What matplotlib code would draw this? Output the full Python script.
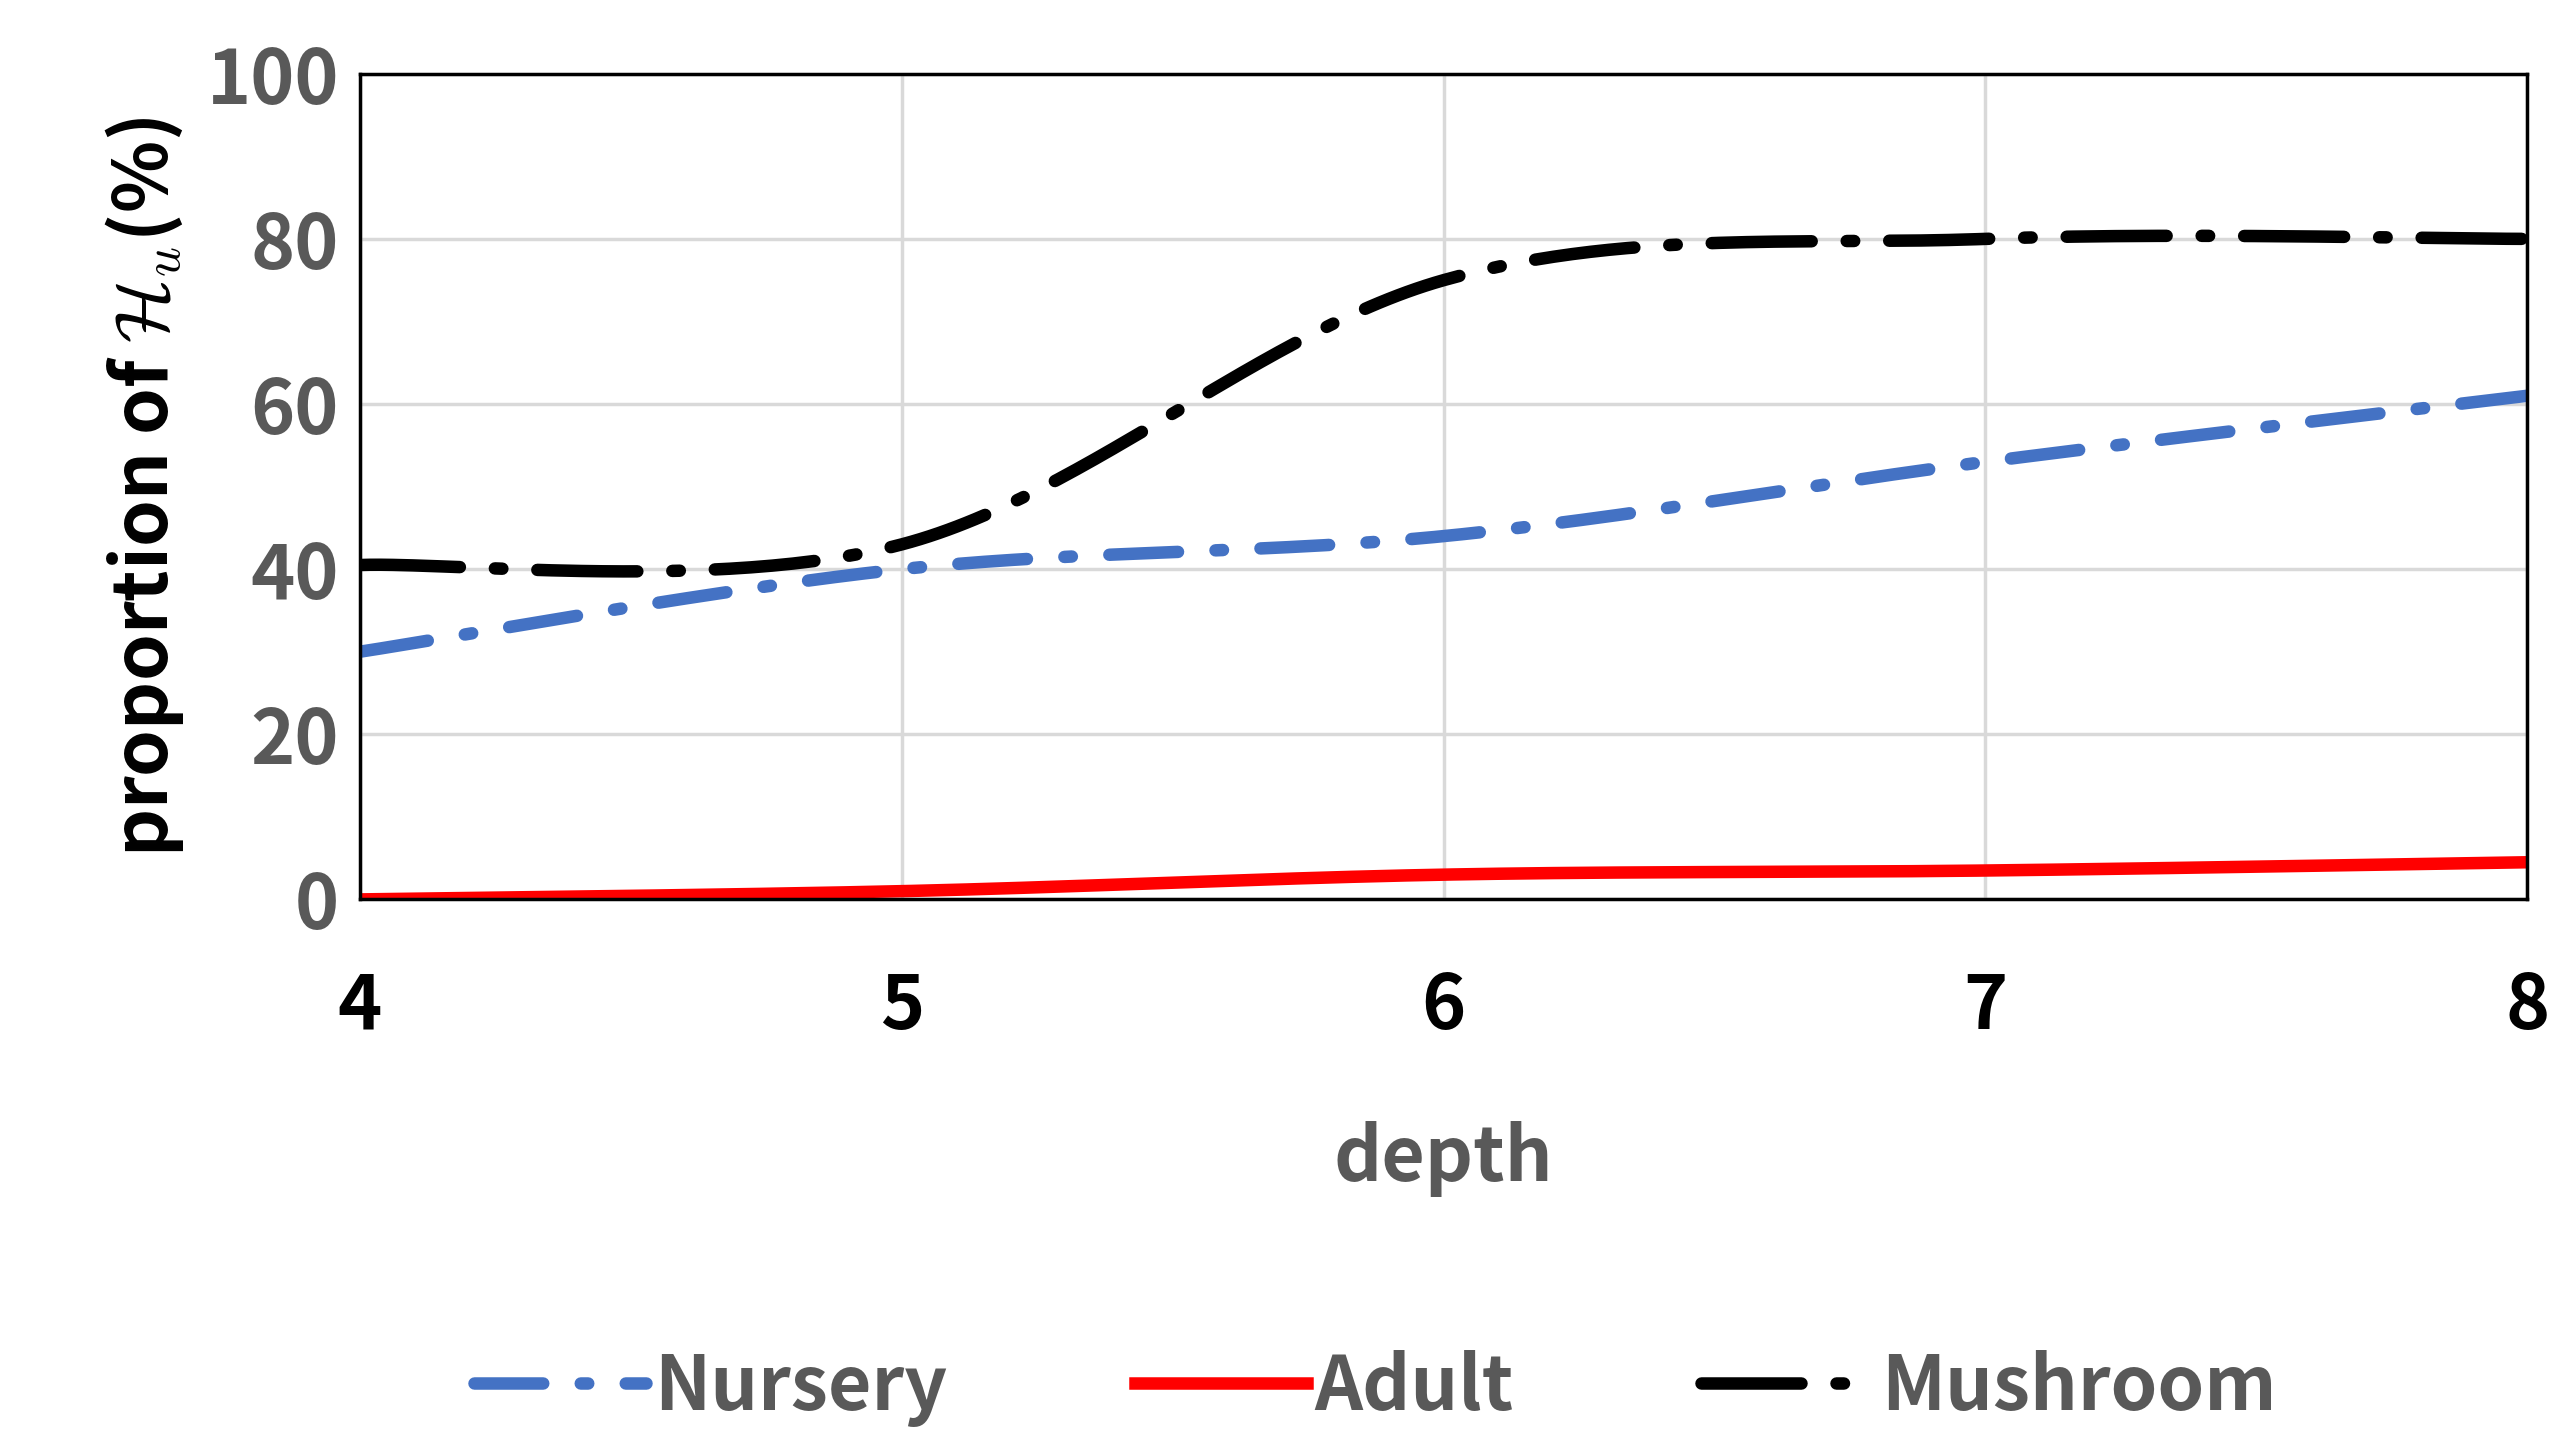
import numpy as np
import matplotlib
matplotlib.use("Agg")
import matplotlib.pyplot as plt

depth = [4, 5, 6, 7, 8]
nursery = [30, 40, 44, 53, 61]
adult = [0, 1, 3, 3.5, 4.5]
mushroom = [40.5, 43, 75, 80, 80]
series_names = ["Nursery", "Adult", "Mushroom"]

def smooth(x, y, n=60):
    # Catmull-Rom rendering through data points (like Excel smoothed lines)
    x = np.asarray(x, float); y = np.asarray(y, float)
    P = np.column_stack([x, y])
    P = np.vstack([P[0], P, P[-1]])
    out = []
    for i in range(1, len(P) - 2):
        p0, p1, p2, p3 = P[i-1], P[i], P[i+1], P[i+2]
        t = np.linspace(0, 1, n)[:, None]
        c = 0.5 * ((2*p1) + (-p0+p2)*t + (2*p0-5*p1+4*p2-p3)*t**2 + (-p0+3*p1-3*p2+p3)*t**3)
        out.append(c)
    c = np.vstack(out)
    return c[:, 0], c[:, 1]

plt.rcParams['font.family'] = ['Noto Sans CJK JP', 'DejaVu Sans']
plt.rcParams['mathtext.fontset'] = 'cm'
fig = plt.figure(figsize=(25.71, 14.46), dpi=100)
ax = fig.add_axes([0.14, 0.378, 0.843, 0.571])

grey = "#595959"
lw = 9
l1, = ax.plot(*smooth(depth, nursery), color="#4472C4", lw=lw, dashes=(5.5, 3, 0.6, 3), label=series_names[0])
l2, = ax.plot(*smooth(depth, adult), color="#FF0000", lw=lw, label=series_names[1])
l3, = ax.plot(*smooth(depth, mushroom), color="black", lw=lw, dashes=(8, 2.8, 0.6, 2.8), label=series_names[2])
l1.set_dash_capstyle('round'); l3.set_dash_capstyle('round')

ax.set_xlim(4, 8)
ax.set_ylim(0, 100)
ax.set_xticks(depth)
ax.set_yticks([0, 20, 40, 60, 80, 100])
ax.grid(True, color="#D9D9D9", lw=2.5)
ax.set_axisbelow(True)
for s in ax.spines.values():
    s.set_linewidth(2.5); s.set_color("black")
ax.tick_params(length=0)
ax.tick_params(axis='x', labelsize=54, pad=50, labelcolor="black")
ax.tick_params(axis='y', labelsize=54, pad=15, labelcolor=grey)
for t in ax.get_xticklabels() + ax.get_yticklabels():
    t.set_fontweight("bold")
ax.set_xlabel("depth", fontsize=54, fontweight="bold", color=grey, labelpad=55)
ax.set_ylabel(r"proportion of $\boldsymbol{\mathcal{H}_u}$(%)", fontsize=54, fontweight="bold", color="black", labelpad=15)
leg = fig.legend(handles=[l1, l2, l3], loc="center", bbox_to_anchor=(0.535, 0.04), ncol=3,
                 frameon=False, fontsize=54, handlelength=2.3, columnspacing=2.5, handletextpad=0.1)
for t in leg.get_texts():
    t.set_color(grey); t.set_fontweight("bold")
fig.savefig("out.png", dpi=100)
